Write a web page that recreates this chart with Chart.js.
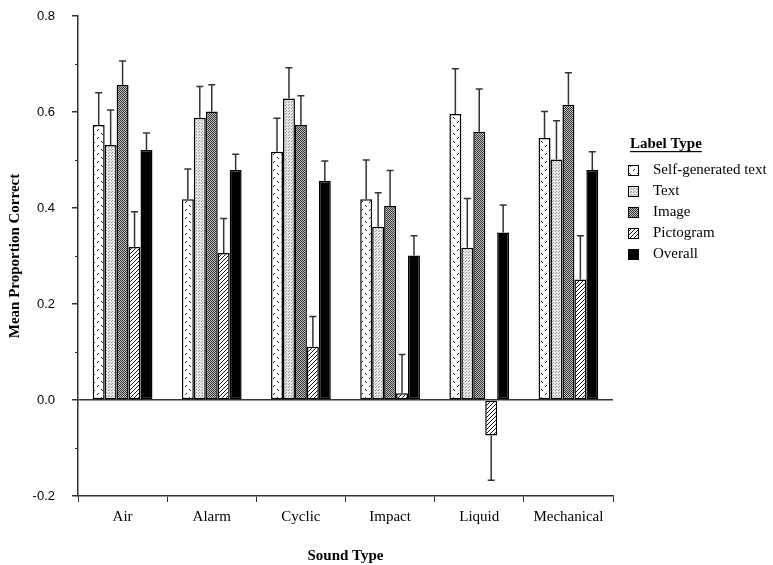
<!DOCTYPE html>
<html>
<head>
<meta charset="utf-8">
<script src="https://cdn.jsdelivr.net/npm/chart.js@4/dist/chart.umd.min.js"></script>
<style>
  html, body { margin: 0; padding: 0; background: #fff; }
  canvas { display: block; }
</style>
</head>
<body>
<canvas id="c" width="773" height="565" style="width:773px;height:565px"></canvas>
<script>
// ---- Data ----
const categories = ['Air', 'Alarm', 'Cyclic', 'Impact', 'Liquid', 'Mechanical'];
const seriesNames = ['Self-generated text', 'Text', 'Image', 'Pictogram', 'Overall'];

const selfGenerated = [0.573, 0.418, 0.517, 0.418, 0.596, 0.546];
const textLabel     = [0.531, 0.588, 0.628, 0.361, 0.317, 0.501];
const imageLabel    = [0.656, 0.601, 0.573, 0.404, 0.559, 0.615];
const pictogram     = [0.319, 0.306, 0.111, 0.014, -0.074, 0.251];
const overall       = [0.521, 0.479, 0.456, 0.301, 0.349, 0.479];

const selfGeneratedErr = [0.067, 0.063, 0.070, 0.082, 0.094, 0.055];
const textLabelErr     = [0.073, 0.065, 0.064, 0.071, 0.103, 0.081];
const imageLabelErr    = [0.050, 0.056, 0.061, 0.074, 0.089, 0.067];
const pictogramErr     = [0.073, 0.072, 0.063, 0.081, 0.093, 0.091];
const overallErr       = [0.035, 0.033, 0.042, 0.041, 0.057, 0.038];

const yTickLabels = ['-0.2', '0.0', '0.2', '0.4', '0.6', '0.8'];

// ---- Patterns ----
function makePattern(size, drawFn) {
  const c = document.createElement('canvas');
  c.width = size; c.height = size;
  const g = c.getContext('2d');
  drawFn(g, size);
  return document.getElementById('c').getContext('2d').createPattern(c, 'repeat');
}
const patSelf = makePattern(8, (g, s) => {
  g.fillStyle = '#fff'; g.fillRect(0, 0, s, s);
  g.strokeStyle = '#222'; g.lineWidth = 1;
  g.beginPath(); g.moveTo(1, 3); g.lineTo(3, 1); g.stroke();
  g.beginPath(); g.moveTo(5, 5); g.lineTo(7, 7); g.stroke();
});
const patText = makePattern(3, (g, s) => {
  g.fillStyle = '#e6e6e6'; g.fillRect(0, 0, s, s);
  g.fillStyle = '#9a9a9a'; g.fillRect(0, 0, 1, 1); g.fillRect(1, 2, 1, 1);
});
const patImage = makePattern(2, (g, s) => {
  g.fillStyle = '#c0c0c0'; g.fillRect(0, 0, s, s);
  g.fillStyle = '#333'; g.fillRect(0, 0, 1, 1); g.fillRect(1, 1, 1, 1);
});
const patPicto = makePattern(4, (g, s) => {
  g.fillStyle = '#fff'; g.fillRect(0, 0, s, s);
  g.strokeStyle = '#111'; g.lineWidth = 1;
  g.beginPath(); g.moveTo(-1, 5); g.lineTo(5, -1); g.stroke();
  g.beginPath(); g.moveTo(3, 5); g.lineTo(5, 3); g.stroke();
  g.beginPath(); g.moveTo(-1, 1); g.lineTo(1, -1); g.stroke();
});
const fills = [patSelf, patText, patImage, patPicto, '#000'];
const values = [selfGenerated, textLabel, imageLabel, pictogram, overall];
const errs = [selfGeneratedErr, textLabelErr, imageLabelErr, pictogramErr, overallErr];

const datasets = seriesNames.map((name, i) => ({
  label: name,
  data: values[i],
  errors: errs[i],
  backgroundColor: fills[i],
  borderColor: '#000',
  borderWidth: 1.5,
  borderSkipped: false,
  categoryPercentage: 0.67,
  barPercentage: 1.0
}));

// ---- Plugins ----
const errorBars = {
  id: 'errorBars',
  afterDatasetsDraw(chart) {
    const ctx = chart.ctx;
    const ys = chart.scales.y;
    ctx.save();
    ctx.strokeStyle = '#333';
    ctx.lineWidth = 1.5;
    chart.data.datasets.forEach((ds, di) => {
      const meta = chart.getDatasetMeta(di);
      meta.data.forEach((el, i) => {
        const v = ds.data[i];
        const e = ds.errors[i];
        const end = v >= 0 ? v + e : v - e;
        const yEnd = ys.getPixelForValue(end);
        ctx.beginPath();
        ctx.moveTo(el.x, el.y);
        ctx.lineTo(el.x, yEnd);
        ctx.moveTo(el.x - 3.5, yEnd);
        ctx.lineTo(el.x + 3.5, yEnd);
        ctx.stroke();
      });
    });
    ctx.restore();
  }
};

const extras = {
  id: 'extras',
  afterDraw(chart) {
    const ctx = chart.ctx;
    const ys = chart.scales.y;
    const left = chart.chartArea.left;
    ctx.save();
    // minor ticks
    ctx.strokeStyle = '#333';
    ctx.lineWidth = 1;
    [-0.1, 0.1, 0.3, 0.5, 0.7].forEach(v => {
      const y = Math.round(ys.getPixelForValue(v)) + 0.5;
      ctx.beginPath(); ctx.moveTo(left - 3, y); ctx.lineTo(left, y); ctx.stroke();
    });
    // legend
    const lx = 628, ty = 144;
    ctx.fillStyle = '#000';
    ctx.font = 'bold 15px "Liberation Serif"';
    ctx.textBaseline = 'middle';
    ctx.textAlign = 'left';
    const title = 'Label Type';
    ctx.fillText(title, lx + 2, ty);
    const tw = ctx.measureText(title).width;
    ctx.fillRect(lx + 2, ty + 7, tw, 1.2);
    ctx.font = '15px "Liberation Serif"';
    chart.data.datasets.forEach((ds, i) => {
      const cy = 170 + i * 21;
      ctx.fillStyle = ds.backgroundColor;
      ctx.fillRect(lx, cy - 5, 11, 11);
      ctx.strokeStyle = '#000';
      ctx.lineWidth = 1;
      ctx.strokeRect(lx + 0.5, cy - 4.5, 10, 10);
      ctx.fillStyle = '#000';
      ctx.fillText(ds.label, 653, cy);
    });
    ctx.restore();
  }
};

new Chart(document.getElementById('c'), {
  type: 'bar',
  data: { labels: categories, datasets },
  plugins: [errorBars, extras],
  options: {
    responsive: false,
    animation: false,
    devicePixelRatio: 1,
    layout: { padding: { left: 0, top: 16, right: 160, bottom: 0 } },
    plugins: { legend: { display: false }, tooltip: { enabled: false } },
    scales: {
      x: {
        grid: { offset: true, drawOnChartArea: false, tickLength: 6, color: '#333', lineWidth: 1 },
        border: { color: '#333', width: 1.5 },
        ticks: { font: { family: 'Liberation Serif', size: 15 }, color: '#000', padding: 6, maxRotation: 0 },
        title: { display: true, text: 'Sound Type', color: '#000',
                 font: { family: 'Liberation Serif', size: 15, weight: 'bold' }, padding: { top: 0, bottom: 0 } },
        afterFit(a) { a.height = 69; a.paddingLeft = 0; a.paddingRight = 0; }
      },
      y: {
        min: -0.2, max: 0.8,
        ticks: {
          stepSize: 0.1,
          padding: 17,
          color: '#000',
          font: { family: 'Liberation Sans', size: 13 },
          callback(value) {
            const k = Math.round(value * 10);
            if (k % 2 !== 0) return '';
            return yTickLabels[(k + 2) / 2];
          }
        },
        grid: {
          drawOnChartArea: true,
          tickLength: 6,
          color: ctx => (ctx.tick && Math.abs(ctx.tick.value) < 1e-9) ? '#333' : 'rgba(0,0,0,0)',
          tickColor: ctx => (ctx.tick && Math.round(ctx.tick.value * 10) % 2 === 0) ? '#333' : 'rgba(0,0,0,0)',
          lineWidth: 1.5
        },
        border: { color: '#333', width: 1.5 },
        title: { display: true, text: 'Mean Proportion Correct', color: '#000',
                 font: { family: 'Liberation Serif', size: 15, weight: 'bold' }, padding: { top: 6, bottom: 0 } },
        afterFit(a) { a.width = 78; a.paddingTop = 0; a.paddingBottom = 0; }
      }
    }
  }
});
</script>
</body>
</html>
